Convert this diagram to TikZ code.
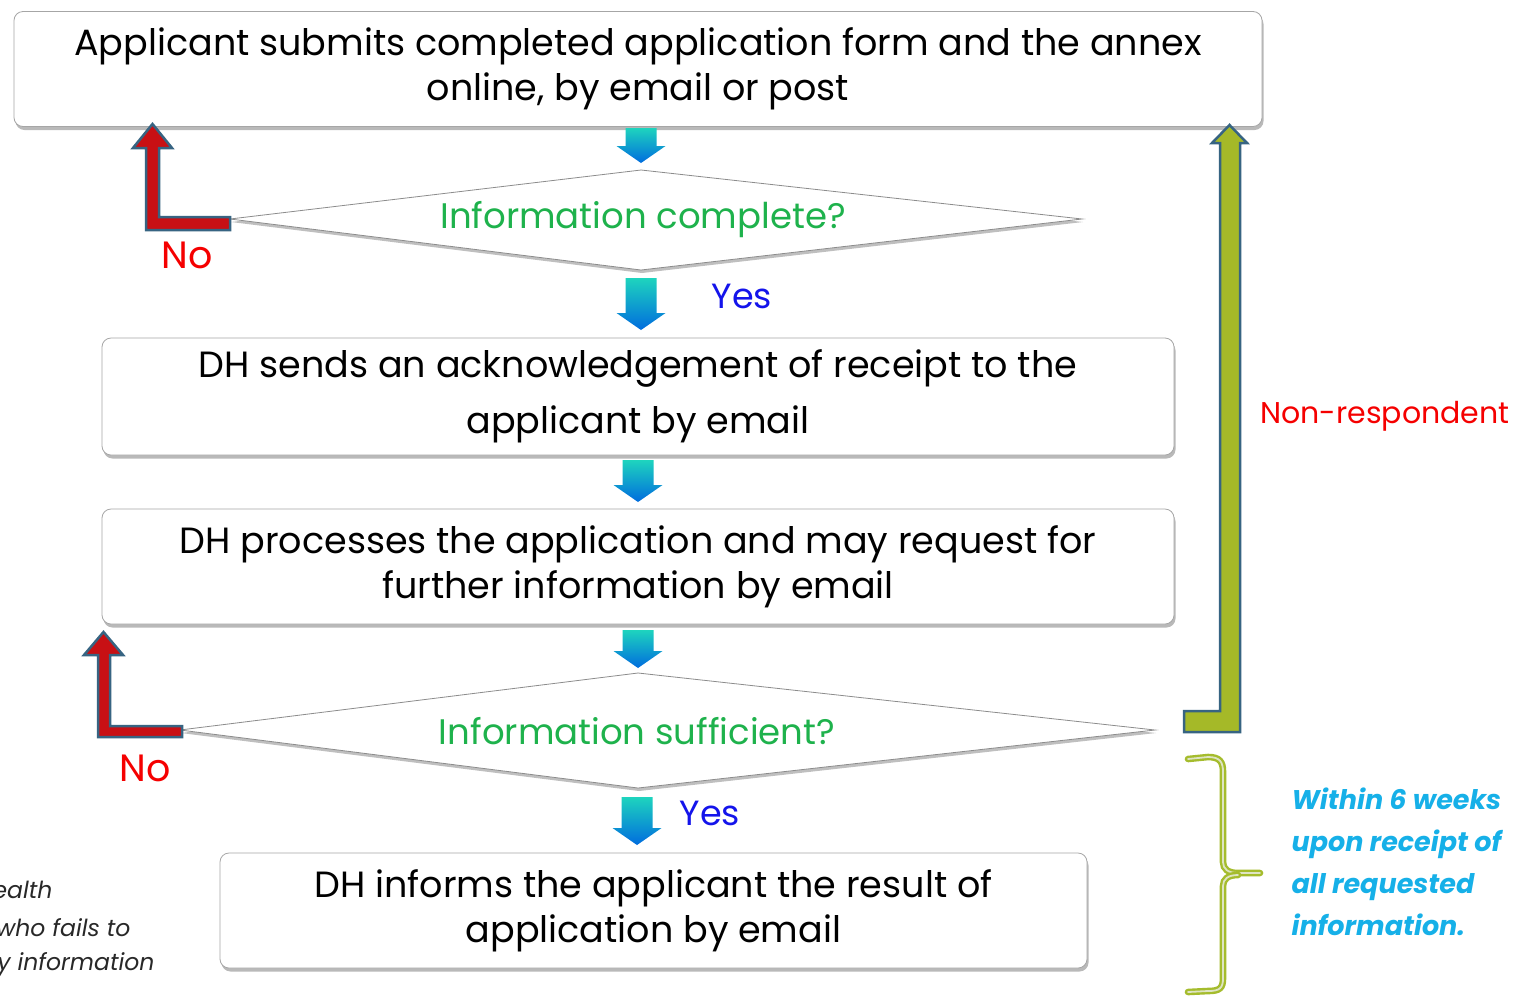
\documentclass[tikz,border=0pt]{standalone}
\usepackage{fontspec}
\setmainfont{Poppins}
\usetikzlibrary{shadows,calc}
\definecolor{qgreen}{RGB}{30,178,76}
\definecolor{yesblue}{RGB}{20,20,235}
\definecolor{nored}{RGB}{245,0,0}
\definecolor{lred}{RGB}{200,16,20}
\definecolor{loutline}{RGB}{55,100,130}
\definecolor{olivefill}{RGB}{165,185,40}
\definecolor{braceout}{RGB}{165,188,45}
\definecolor{bracein}{RGB}{222,228,195}
\definecolor{itblue}{RGB}{22,176,232}
\definecolor{arrtop}{RGB}{30,212,190}
\definecolor{arrbot}{RGB}{0,108,222}
\definecolor{txtgray}{RGB}{40,40,40}
\newcommand\bdarrow[3]{%
  \shade[top color=arrtop, bottom color=arrbot]
    (#1-15.5,#2) -- (#1+15.5,#2) -- (#1+15.5,#3-17) -- (#1+24.5,#3-17)
    -- (#1,#3) -- (#1-24.5,#3-17) -- (#1-15.5,#3-17) -- cycle;}
\begin{document}
\begin{tikzpicture}[x=1pt,y=-1pt,
  box/.style={draw=black!35, line width=0.8pt, rounded corners=9pt, fill=white,
    drop shadow={shadow xshift=1.5pt, shadow yshift=-3.5pt, opacity=0.55},
    align=center, inner sep=0pt, text=black,
    font=\fontsize{36.5}{45}\selectfont},
  dia/.style={draw=black!45, line width=0.8pt, fill=white,
    drop shadow={shadow xshift=1pt, shadow yshift=-3pt, opacity=0.5}},
  qtext/.style={text=qgreen, font=\fontsize{35.5}{40}\selectfont},
  yestext/.style={text=yesblue, font=\fontsize{35}{40}\selectfont},
  notext/.style={text=nored, font=\fontsize{38}{42}\selectfont},
  nrtext/.style={text=nored, font=\fontsize{30}{36}\selectfont},
  larrow/.style={fill=lred, draw=loutline, line width=2.5pt, line join=miter},
  garrow/.style={fill=olivefill, draw=loutline, line width=2.5pt, line join=miter},
  bracestyle/.style={draw=braceout, line width=2.4pt, double=bracein, double distance=1.8pt, line cap=round},
  lefttext/.style={anchor=east, text=txtgray, font=\itshape\fontsize{23.5}{27}\selectfont},
  weektext/.style={anchor=west, text=itblue, font=\bfseries\itshape\fontsize{27}{42}\selectfont, align=left}
]
\clip (0,0) rectangle (1522,997);
\fill[white] (0,0) rectangle (1522,997);

% boxes
\node[box, minimum width=1248, minimum height=115] (b1) at (638,69)
  {Applicant submits completed application form and the annex\\online, by email or post};
\node[box, minimum width=1072, minimum height=117] (b2) at (638,396.5)
  {DH sends an acknowledgement of receipt to the\\[11pt]applicant by email};
\node[box, minimum width=1072, minimum height=115] (b3) at (638,566.5)
  {DH processes the application and may request for\\further information by email};
\node[box, minimum width=867, minimum height=115] (b4) at (653.5,910.5)
  {DH informs the applicant the result of\\application by email};

% diamonds
\draw[dia] (230,219) -- (641,170) -- (1082,219) -- (641,270) -- cycle;
\node[qtext] (d1) at (643,220) {Information complete?};
\draw[dia] (180,730) -- (638,673) -- (1155,730) -- (638,788) -- cycle;
\node[qtext] (d2) at (637,731) {Information sufficient?};

% block arrows
\bdarrow{641}{128}{163}
\bdarrow{641}{278}{330}
\bdarrow{638}{460}{502}
\bdarrow{638}{630}{668}
\bdarrow{637}{797}{845}

\node[yestext] (y1) at (742,296) {Yes};
\node[yestext] (y2) at (710,813) {Yes};

% No arrows
\draw[larrow] (146,230) -- (146,148) -- (133,148) -- (152.5,124) -- (172,148)
  -- (159,148) -- (159,217) -- (230,217) -- (230,230) -- cycle;
\node[notext] (n1) at (187,255) {No};
\draw[larrow] (98,737) -- (98,655) -- (84,655) -- (103.5,632) -- (123,655)
  -- (110,655) -- (110,726) -- (182,726) -- (182,737) -- cycle;
\node[notext] (n2) at (145,768) {No};

% non-respondent arrow
\draw[garrow] (1184,732) -- (1240,732) -- (1240,143) -- (1247,143) -- (1229.5,125)
  -- (1212,143) -- (1220,143) -- (1220,711) -- (1184,711) -- cycle;
\node[nrtext] (nr) at (1385,416) {Non-respondent};

% brace
\draw[bracestyle] (1188,759) -- (1208,757) .. controls (1220,757) and (1223,762) .. (1223,772)
  -- (1223,862) .. controls (1223,869) and (1228,873) .. (1238,873) -- (1260,873);
\draw[bracestyle] (1238,875) .. controls (1228,875) and (1223,879) .. (1223,886)
  -- (1223,978) .. controls (1223,988) and (1220,991) .. (1208,991) -- (1188,992);
\node[weektext] (wk) at (1288,862)
  {Within 6 weeks\\upon receipt of\\all requested\\information.};

% cut-off text on the left
\node[lefttext] (l1) at (56,890) {ealth};
\node[lefttext] (l2) at (134,928) {who fails to};
\node[lefttext] (l3) at (158,965) {y information};
\end{tikzpicture}
\end{document}
